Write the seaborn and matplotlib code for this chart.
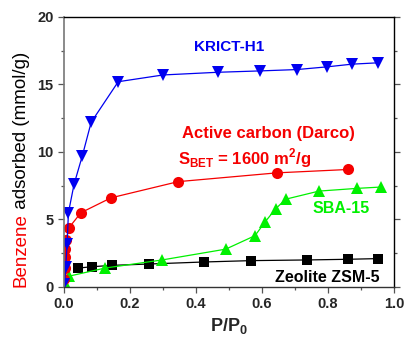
import matplotlib
matplotlib.use("Agg")
import matplotlib.pyplot as plt
import seaborn as sns
import numpy as np
from matplotlib.ticker import MultipleLocator

# Data
krict_x = [0.001, 0.005, 0.009, 0.013, 0.03, 0.055, 0.082, 0.164, 0.30, 0.467, 0.594, 0.706, 0.797, 0.873, 0.952]
krict_y = [0.2, 1.5, 3.2, 5.5, 7.6, 9.7, 12.2, 15.2, 15.7, 15.9, 16.0, 16.1, 16.3, 16.5, 16.6]

carbon_x = [0.001, 0.002, 0.003, 0.004, 0.006, 0.015, 0.051, 0.142, 0.346, 0.645, 0.861]
carbon_y = [0.6, 1.4, 2.2, 2.8, 3.5, 4.4, 5.5, 6.6, 7.8, 8.45, 8.7]

sba_x = [0.002, 0.015, 0.124, 0.297, 0.49, 0.579, 0.609, 0.642, 0.672, 0.773, 0.888, 0.961]
sba_y = [0.3, 0.8, 1.4, 2.0, 2.8, 3.8, 4.8, 5.8, 6.5, 7.1, 7.3, 7.4]

zsm_x = [0.043, 0.085, 0.145, 0.258, 0.424, 0.567, 0.736, 0.861, 0.952]
zsm_y = [1.4, 1.5, 1.6, 1.7, 1.85, 1.95, 2.0, 2.05, 2.1]

x_ticks = [0.0, 0.2, 0.4, 0.6, 0.8, 1.0]
x_tick_labels = ["0.0", "0.2", "0.4", "0.6", "0.8", "1.0"]
y_ticks = [0, 5, 10, 15, 20]
y_tick_labels = ["0", "5", "10", "15", "20"]

sns.set_theme(style="ticks")
plt.rcParams['font.family'] = ['Liberation Sans', 'DejaVu Sans']

fig = plt.figure(figsize=(4.06, 3.38), dpi=100)
ax = fig.add_axes([0.158, 0.151, 0.812, 0.799])

BLUE, RED, GREEN = "#0000f0", "#f50000", "#00f000"

common = dict(ax=ax, estimator=None, sort=False, linewidth=0.9, markeredgewidth=0)
sns.lineplot(x=zsm_x, y=zsm_y, color="black", marker="s", markersize=7, **common)
sns.lineplot(x=sba_x, y=sba_y, color=GREEN, marker="^", markersize=9, **common)
sns.lineplot(x=carbon_x, y=carbon_y, color=RED, marker="o", markersize=8, **common)
sns.lineplot(x=krict_x, y=krict_y, color=BLUE, marker="v", markersize=9, **common)

ax.set_xlim(0, 1.0)
ax.set_ylim(0, 20)
ax.set_xticks(x_ticks)
ax.set_xticklabels(x_tick_labels)
ax.set_yticks(y_ticks)
ax.set_yticklabels(y_tick_labels)
ax.xaxis.set_minor_locator(MultipleLocator(0.1))
ax.yaxis.set_minor_locator(MultipleLocator(2.5))
ax.tick_params(which="both", direction="out", right=True, top=False, labelsize=10.5,
               width=0.9, color="#555555")
ax.tick_params(which="major", length=4)
ax.tick_params(which="minor", length=2.5)
for lab in ax.get_xticklabels() + ax.get_yticklabels():
    lab.set_fontweight("bold")

for s in ["top", "right"]:
    ax.spines[s].set_color("black")
    ax.spines[s].set_linewidth(1.0)
ax.spines["left"].set_color("#777777")
ax.spines["bottom"].set_color("#333333")
ax.spines["left"].set_linewidth(1.2)
ax.spines["bottom"].set_linewidth(1.0)

ax.set_xlabel(r"P/P$_\mathregular{0}$", fontsize=13, fontweight="bold", labelpad=3)
ax.set_ylabel("")

# y label: red "Benzene" + black " adsorbed (mmol/g)"
fig.text(0.052, 0.151, "Benzene", color=RED, rotation=90, fontsize=13.5,
         ha="center", va="bottom")
fig.text(0.052, 0.151 + 0.215, " adsorbed (mmol/g)", color="black", rotation=90,
         fontsize=13.5, ha="center", va="bottom")

ax.text(0.50, 17.8, "KRICT-H1", color=BLUE, fontsize=11, fontweight="bold",
        ha="center", va="center")
ax.text(0.62, 11.4, "Active carbon (Darco)", color=RED, fontsize=12,
        fontweight="bold", ha="center", va="center")
ax.text(0.345, 9.55, r"S$_\mathregular{BET}$ = 1600 m$^\mathregular{2}$/g", color=RED,
        fontsize=12, fontweight="bold", ha="left", va="center")
ax.text(0.84, 5.8, "SBA-15", color=GREEN, fontsize=11.5, fontweight="bold",
        ha="center", va="center")
ax.text(0.958, 0.7, "Zeolite ZSM-5", color="black", fontsize=11.5, fontweight="bold",
        ha="right", va="center")

fig.savefig("out.png", dpi=100)
